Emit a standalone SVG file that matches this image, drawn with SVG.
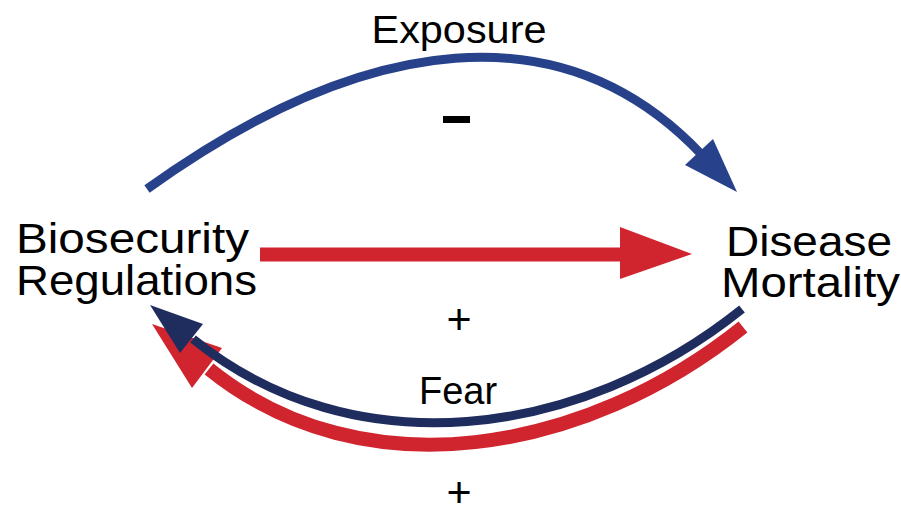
<svg xmlns="http://www.w3.org/2000/svg" width="901" height="508" viewBox="0 0 901 508">
<style>
text{font-family:"Liberation Sans",Arial,sans-serif;fill:#000;}
.node{font-size:42px;}
.lbl{font-size:38px;text-anchor:middle;}
.blue{fill:none;stroke:#27428A;stroke-width:9;}
.navy{fill:none;stroke:#1F2D5E;stroke-width:9;}
.red{fill:none;stroke:#D0242E;stroke-width:14;}
</style>
<rect width="901" height="508" fill="#fff"/>
<g id="connectors">
<g id="exposure">
<path class="blue" d="M147,189 C367,31 564,10 701,154"/>
<polygon fill="#27428A" points="737,192 685,165 713,139"/>
</g>
<g id="direct">
<path class="red" d="M260,254.5 L622,254.5"/>
<polygon fill="#D0242E" points="692,254 620,227 620,279"/>
</g>
<g id="fear-red">
<path class="red" d="M743,327 C586,453 364,494 209,369"/>
<polygon fill="#D0242E" points="152,324 222,348 192,388"/>
</g>
<g id="fear-blue">
<path class="navy" d="M742,309 C580,439 354,469 193,339"/>
<polygon fill="#1F2D5E" points="150,305 203,324 180,353"/>
</g>
</g>
<g id="node-biosecurity">
<text class="node" x="16" y="253" textLength="233" lengthAdjust="spacingAndGlyphs">Biosecurity</text>
<text class="node" x="16" y="295" textLength="241" lengthAdjust="spacingAndGlyphs">Regulations</text>
</g>
<g id="node-disease">
<text class="node" x="726" y="256" textLength="166" lengthAdjust="spacingAndGlyphs">Disease</text>
<text class="node" x="721" y="297" textLength="179" lengthAdjust="spacingAndGlyphs">Mortality</text>
</g>
<g id="labels">
<text class="lbl" x="459" y="43" textLength="175" lengthAdjust="spacingAndGlyphs">Exposure</text>
<text class="lbl" x="458" y="404">Fear</text>
<rect x="443" y="116" width="27" height="7" fill="#000"/>
<text class="lbl" x="459" y="334" style="font-size:43px">+</text>
<text class="lbl" x="459" y="507" style="font-size:43px">+</text>
</g>
</svg>
